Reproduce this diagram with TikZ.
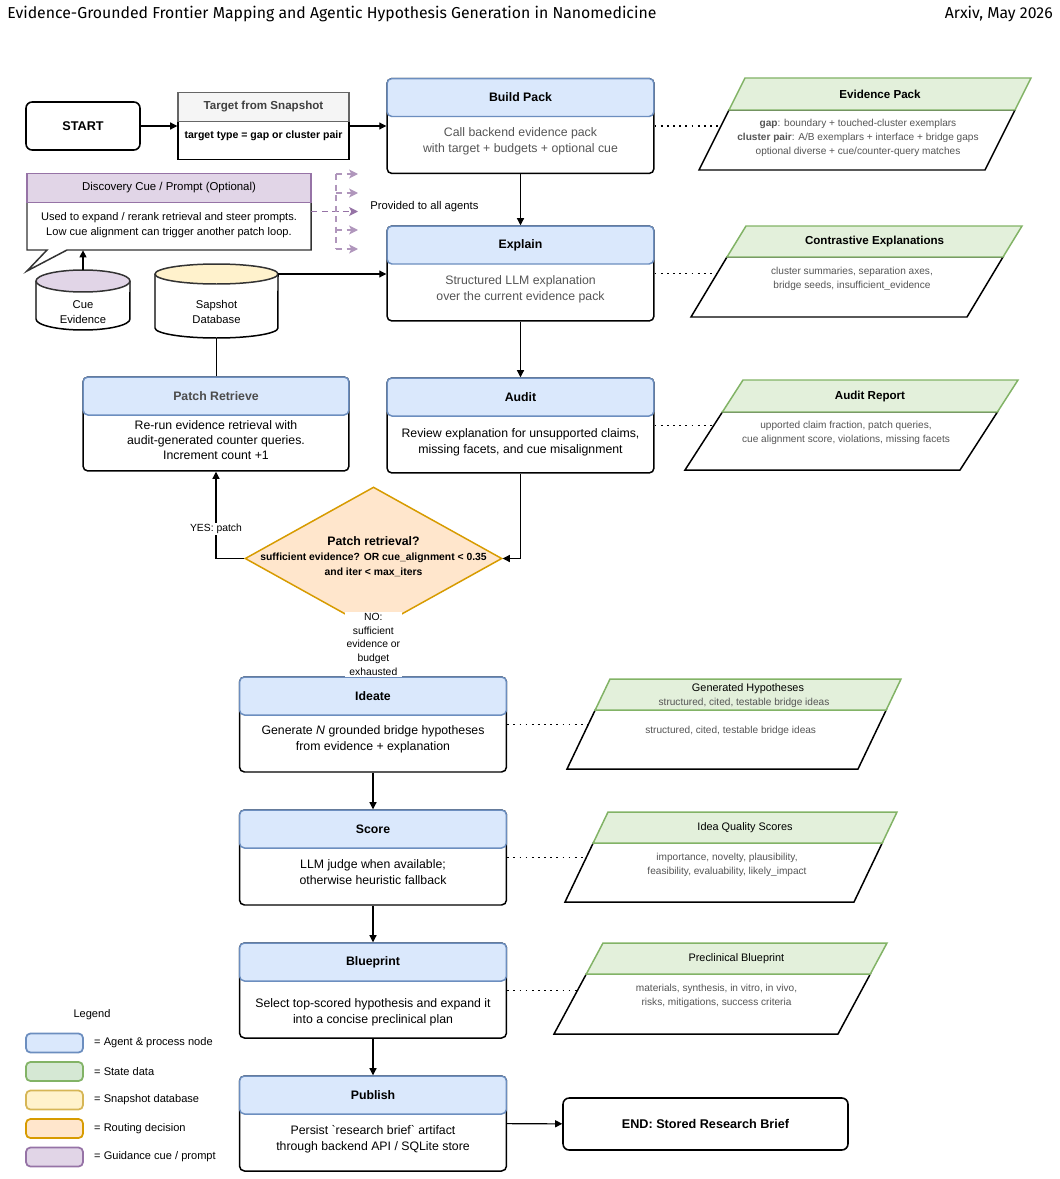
\documentclass[tikz,border=0pt]{standalone}
\usepackage{fontspec}
\setmainfont{Liberation Sans}
\newfontfamily\headfont{Fira Sans}
\usetikzlibrary{arrows.meta, positioning, shapes.geometric}

\definecolor{agentfill}{HTML}{DAE8FC}
\definecolor{agentline}{HTML}{6C8EBF}
\definecolor{statefill}{HTML}{D5E8D4}
\definecolor{statehead}{HTML}{E3F0DB}
\definecolor{stateline}{HTML}{82B366}
\definecolor{dbfill}{HTML}{FFF2CC}
\definecolor{dbline}{HTML}{D6B656}
\definecolor{routefill}{HTML}{FFE6CC}
\definecolor{routeline}{HTML}{D79B00}
\definecolor{cuefill}{HTML}{E1D5E7}
\definecolor{cueline}{HTML}{9673A6}
\definecolor{grayfill}{HTML}{F5F5F5}
\definecolor{grayline}{HTML}{666666}
\definecolor{softtext}{HTML}{555555}

\begin{document}
\begin{tikzpicture}[x=0.02cm, y=-0.02cm,
    proc/.style={draw, line width=0.85pt, rounded corners=2.8pt, fill=white,
      minimum width=5.34cm, minimum height=1.9cm, inner sep=0pt},
    prochead/.style={draw=agentline, fill=agentfill, line width=0.85pt,
      rounded corners=2.8pt, minimum width=5.34cm, minimum height=0.76cm,
      inner sep=0pt, anchor=north, font=\fontsize{7}{8}\selectfont\bfseries},
    bodytxt/.style={align=center, font=\fontsize{7}{9}\selectfont},
    term/.style={draw, line width=0.9pt, rounded corners=3.5pt, fill=white,
      inner sep=0pt, font=\fontsize{7.2}{8}\selectfont\bfseries},
    datahead/.style={draw=stateline, fill=statehead, line width=0.85pt},
    databody/.style={draw, line width=0.85pt, fill=white},
    datatitle/.style={font=\fontsize{6.6}{8}\selectfont\bfseries},
    datatxt/.style={align=center, text=softtext, font=\fontsize{5.75}{7.9}\selectfont},
    dbtxt/.style={align=center, font=\fontsize{6.4}{8.5}\selectfont},
    arr/.style={-{Triangle[length=4pt, width=4pt]}, line width=0.6pt},
    link/.style={line width=1pt, dash pattern=on 1pt off 2.5pt},
    cuedash/.style={draw=cueline, line width=0.8pt, dash pattern=on 3.5pt off 2.5pt,
      -{Stealth[length=5pt, width=5pt, inset=1.2pt]}},
    lbl/.style={fill=white, inner sep=0.8pt, align=center, font=\fontsize{5.9}{7.7}\selectfont},
    swatch/.style={rounded corners=2.5pt, line width=1pt, minimum width=1.14cm, minimum height=0.38cm},
    legtxt/.style={inner sep=0pt, font=\fontsize{6.3}{7}\selectfont}]
  \useasboundingbox (0,0) rectangle (1060,1179);

  % page header
  \node[anchor=west, inner sep=0pt, font=\headfont\fontsize{9}{11}\selectfont] (title) at (7,14)
    {Evidence-Grounded Frontier Mapping and Agentic Hypothesis Generation in Nanomedicine};
  \node[anchor=east, inner sep=0pt, font=\headfont\fontsize{9}{11}\selectfont] (venue) at (1053,14) {Arxiv, May 2026};

  % start and target
  \node[term, minimum width=2.28cm, minimum height=0.96cm] (start) at (83,126) {START};
  \node[draw, line width=0.85pt, fill=white, minimum width=3.42cm, minimum height=1.34cm, inner sep=0pt] (target) at (263.5,126) {};
  \node[draw=grayline, fill=grayfill, line width=0.85pt, minimum width=3.42cm, minimum height=0.58cm, inner sep=0pt,
    anchor=north, text=black!75, font=\fontsize{6.6}{8}\selectfont\bfseries] (targeth) at (target.north) {Target from Snapshot};
  \node[font=\fontsize{6}{7}\selectfont\bfseries] (targett) at (263.5,136) {target type = gap or cluster pair};

  % agent column
  \node[proc] (build) at (520.5,126) {};
  \node[prochead] (buildh) at (build.north) {Build Pack};
  \node[bodytxt, text=softtext] (buildt) at (520.5,141) {Call backend evidence pack\\with target + budgets + optional cue};

  \node[proc] (explain) at (520.5,273.5) {};
  \node[prochead] (explainh) at (explain.north) {Explain};
  \node[bodytxt, text=softtext] (explaint) at (520.5,289) {Structured LLM explanation\\over the current evidence pack};

  \node[proc] (audit) at (520.5,425.5) {};
  \node[prochead] (audith) at (audit.north) {Audit};
  \node[bodytxt] (auditt) at (520.5,442) {Review explanation for unsupported claims,\\missing facets, and cue misalignment};

  \node[proc, minimum width=5.32cm, minimum height=1.88cm] (patch) at (216,424) {};
  \node[prochead, minimum width=5.32cm, text=black!70] (patchh) at (patch.north) {Patch Retrieve};
  \node[bodytxt, font=\fontsize{7}{8.5}\selectfont] (patcht) at (216,440) {Re-run evidence retrieval with\\audit-generated counter queries.\\Increment count +1};

  \node[proc] (ideate) at (373,724.5) {};
  \node[prochead] (ideateh) at (ideate.north) {Ideate};
  \node[bodytxt] (ideatet) at (373,739) {Generate \textit{N} grounded bridge hypotheses\\from evidence + explanation};

  \node[proc] (score) at (373,857.5) {};
  \node[prochead] (scoreh) at (score.north) {Score};
  \node[bodytxt] (scoret) at (373,872) {LLM judge when available;\\otherwise heuristic fallback};

  \node[proc] (blueprint) at (373,990.5) {};
  \node[prochead] (blueprinth) at (blueprint.north) {Blueprint};
  \node[bodytxt] (blueprintt) at (373,1012) {Select top-scored hypothesis and expand it\\into a concise preclinical plan};

  \node[proc] (publish) at (373,1123.5) {};
  \node[prochead] (publishh) at (publish.north) {Publish};
  \node[bodytxt] (publisht) at (373,1139) {Persist \textasciigrave research brief\textasciigrave{} artifact\\through backend API / SQLite store};

  \node[term, minimum width=5.7cm, minimum height=1.04cm] (finish) at (705.5,1124) {END: Stored Research Brief};

  % discovery cue callout
  \node[minimum width=5.68cm, minimum height=1.54cm, inner sep=0pt] (cuebox) at (169,211.5) {};
  \draw[line width=0.85pt, draw=black!80, fill=white] (27,202) -- (27,250) -- (47,250) -- (27,271) -- (67,250) -- (311,250) -- (311,202);
  \node[draw=cueline, fill=cuefill, line width=0.85pt, minimum width=5.68cm, minimum height=0.58cm, inner sep=0pt,
    anchor=north, font=\fontsize{6.5}{8}\selectfont] (cueh) at (cuebox.north) {Discovery Cue / Prompt (Optional)};
  \node[align=center, font=\fontsize{6.3}{8.5}\selectfont] (cuet) at (169,225.5)
    {Used to expand / rerank retrieval and steer prompts.\\Low cue alignment can trigger another patch loop.};

  % cue evidence cylinder
  \draw[line width=0.85pt, fill=white] (36,281) -- (36,319) arc[start angle=180, end angle=360, x radius=0.94cm, y radius=0.22cm] -- (130,281);
  \draw[line width=0.85pt, draw=black!80, fill=cuefill] (83,281) ellipse [x radius=0.94cm, y radius=0.22cm];
  \node[dbtxt] (cuedb) at (83,312) {Cue\\Evidence};
  \coordinate (cuetop) at (83,270);

  % snapshot database cylinder
  \draw[line width=0.85pt, fill=white] (155,274) -- (155,328) arc[start angle=180, end angle=360, x radius=1.23cm, y radius=0.2cm] -- (278,274);
  \draw[line width=0.85pt, draw=black!80, fill=dbfill] (216.5,274) ellipse [x radius=1.23cm, y radius=0.2cm];
  \node[dbtxt] (db) at (216.5,312) {Sapshot\\Database};
  \coordinate (dbtop) at (278,274);
  \coordinate (dbbot) at (216.5,338);

  % cue fan-out
  \draw[cuedash] (cuebox.east) -- (358,211.5);
  \draw[cuedash, -, draw=cueline!75] (336,174) -- (336,249);
  \draw[cuedash, draw=cueline!75] (336,174) -- (358,174);
  \draw[cuedash, draw=cueline!75] (336,193) -- (358,193);
  \draw[cuedash, draw=cueline!75] (336,230) -- (358,230);
  \draw[cuedash, draw=cueline!75] (336,249) -- (358,249);
  \node[anchor=west, inner sep=0pt, font=\fontsize{6.4}{8}\selectfont] (provided) at (370,207) {Provided to all agents};

  % routing decision
  \node[diamond, draw=routeline, fill=routefill, line width=0.85pt, minimum width=5.14cm, minimum height=2.86cm, inner sep=0pt] (route) at (373.5,558.5) {};
  \node[align=center, font=\fontsize{5.9}{8.5}\selectfont\bfseries] (routet) at (373.5,557)
    {{\fontsize{7}{9}\selectfont Patch retrieval?}\\sufficient evidence? OR cue\_alignment < 0.35\\and iter < max\_iters};

  % state data
  \draw[databody] (729,110) -- (1015,110) -- (985,170) -- (699,170) -- cycle;
  \draw[datahead] (745,78) -- (1031,78) -- (1015,110) -- (729,110) -- cycle;
  \node[datatitle] (evpack) at (880,94) {Evidence Pack};
  \node[datatxt] (evpackt) at (858,138) {\textbf{gap}: boundary + touched-cluster exemplars\\\textbf{cluster pair}: A/B exemplars + interface + bridge gaps\\optional diverse + cue/counter-query matches};
  \coordinate (evpackin) at (722,126);

  \draw[databody] (727,257) -- (1003,257) -- (967,317) -- (691,317) -- cycle;
  \draw[datahead] (746,226) -- (1022,226) -- (1003,257) -- (727,257) -- cycle;
  \node[datatitle] (contrast) at (874.6,241.5) {Contrastive Explanations};
  \node[datatxt] (contrastt) at (852,279) {cluster summaries, separation axes,\\bridge seeds, insufficient\_evidence};
  \coordinate (contrastin) at (718,273.5);

  \draw[databody] (722.4,412) -- (997.4,412) -- (960,470) -- (685,470) -- cycle;
  \draw[datahead] (743,380) -- (1018,380) -- (997.4,412) -- (722.4,412) -- cycle;
  \node[datatitle] (report) at (870,396) {Audit Report};
  \node[datatxt] (reportt) at (846,433) {upported claim fraction, patch queries,\\cue alignment score, violations, missing facets};
  \coordinate (reportin) at (713.5,425.5);

  \draw[databody] (595.2,710) -- (886.2,710) -- (858,769) -- (567,769) -- cycle;
  \draw[datahead] (610,679) -- (901,679) -- (886.2,710) -- (595.2,710) -- cycle;
  \node[font=\fontsize{6.2}{8}\selectfont] (genhyp) at (748,689) {Generated Hypotheses};
  \node[datatxt] (genhyps) at (744,703) {structured, cited, testable bridge ideas};
  \node[datatxt] (genhypt) at (730.7,731) {structured, cited, testable bridge ideas};
  \coordinate (genhypin) at (588.3,724.5);

  \draw[databody] (593.2,843) -- (882.2,843) -- (854,902) -- (565,902) -- cycle;
  \draw[datahead] (608,812) -- (897,812) -- (882.2,843) -- (593.2,843) -- cycle;
  \node[font=\fontsize{6.2}{8}\selectfont] (quality) at (745,828) {Idea Quality Scores};
  \node[datatxt] (qualityt) at (727,865) {importance, novelty, plausibility,\\feasibility, evaluability, likely\_impact};
  \coordinate (qualityin) at (586.3,857.5);

  \draw[databody] (586.3,974) -- (870.3,974) -- (838,1034) -- (554,1034) -- cycle;
  \draw[datahead] (603,943) -- (887,943) -- (870.3,974) -- (586.3,974) -- cycle;
  \node[font=\fontsize{6.2}{8}\selectfont] (plan) at (736.4,959) {Preclinical Blueprint};
  \node[datatxt] (plant) at (716.5,996) {materials, synthesis, in vitro, in vivo,\\risks, mitigations, success criteria};
  \coordinate (planin) at (577.4,990.5);

  % legend
  \node[legtxt] (legend) at (92,1015) {Legend};
  \node[swatch, draw=agentline, fill=agentfill] (lgagent) at (54.5,1043) {};
  \node[swatch, draw=stateline, fill=statefill, below=0.155cm of lgagent] (lgstate) {};
  \node[swatch, draw=dbline, fill=dbfill, below=0.155cm of lgstate] (lgdb) {};
  \node[swatch, draw=routeline, fill=routefill, below=0.155cm of lgdb] (lgroute) {};
  \node[swatch, draw=cueline, fill=cuefill, below=0.155cm of lgroute] (lgcue) {};
  \node[legtxt, right=0.2cm of lgagent] (lgagentt) {= Agent \& process node};
  \node[legtxt, right=0.2cm of lgstate] (lgstatet) {= State data};
  \node[legtxt, right=0.2cm of lgdb] (lgdbt) {= Snapshot database};
  \node[legtxt, right=0.2cm of lgroute] (lgroutet) {= Routing decision};
  \node[legtxt, right=0.2cm of lgcue] (lgcuet) {= Guidance cue / prompt};

  % connectors
  \draw[arr] (start) -- (target);
  \draw[arr] (target) -- (build);
  \draw[arr] (build) -- (explain);
  \draw[arr] (explain) -- (audit);
  \draw[arr] (audit.south) |- (route.east);
  \draw[arr] (route.west) -| (patch.south) node[lbl, pos=0.67] {YES: patch};
  \draw[arr] (route.south) -- (ideate.north) node[lbl, pos=0.3] {NO:\\sufficient\\evidence or\\budget\\exhausted};
  \draw[arr] (ideate) -- (score);
  \draw[arr] (score) -- (blueprint);
  \draw[arr] (blueprint) -- (publish);
  \draw[arr] (publish) -- (finish);
  \draw[arr] (dbtop) -- (dbtop -| explain.west);
  \draw[line width=0.6pt] (dbbot) -- (dbbot |- patch.north);
  \draw[arr] (cuetop) -- (cuetop |- cuebox.south);

  % dotted links to state data
  \draw[link] (build.east) -- (evpackin);
  \draw[link] (explain.east) -- (contrastin);
  \draw[link] (audit.east) -- (reportin);
  \draw[link] (ideate.east) -- (genhypin);
  \draw[link] (score.east) -- (qualityin);
  \draw[link] (blueprint.east) -- (planin);
\end{tikzpicture}
\end{document}
